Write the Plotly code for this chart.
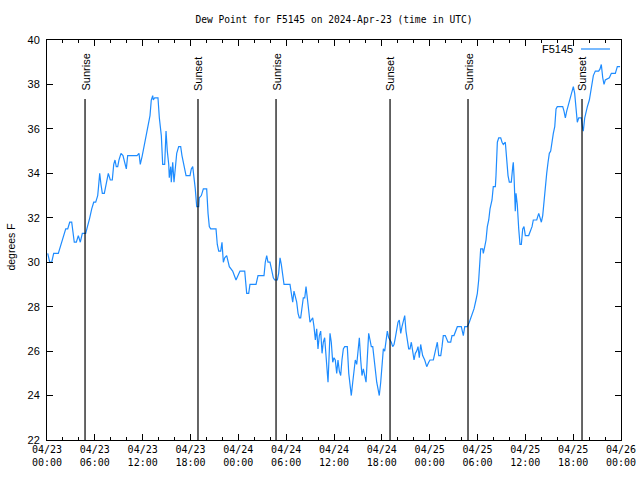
import plotly.graph_objects as go
import pandas as pd

# (hours since 2024-04-23 00:00 UTC, dew point in degrees F)
day1 = [
    (0.09, 30.4), (0.34, 30.0), (0.59, 30.0), (0.84, 30.4), (1.42, 30.4), (1.59, 30.6), (1.84, 31.0),
    (2.09, 31.2), (2.35, 31.5), (2.60, 31.5), (2.85, 31.8), (3.10, 31.8), (3.26, 31.2), (3.42, 30.9),
    (3.68, 30.9), (3.93, 31.2), (4.18, 30.9), (4.43, 31.3), (4.85, 31.3), (5.11, 31.6), (5.36, 32.0),
    (5.61, 32.4), (5.86, 32.7), (6.11, 32.7), (6.36, 33.0), (6.44, 33.3), (6.61, 34.0), (6.77, 33.5),
    (6.94, 33.1), (7.19, 33.1), (7.44, 33.6), (7.69, 34.0), (7.94, 33.7), (8.19, 33.7), (8.37, 34.4),
    (8.53, 34.6), (8.69, 34.3), (8.87, 34.3), (9.03, 34.6), (9.28, 34.9), (9.53, 34.8), (9.78, 34.4),
    (9.95, 34.2), (10.12, 34.8), (11.29, 34.8), (11.54, 34.9), (11.70, 34.4), (11.95, 34.8), (12.17, 35.2),
    (12.42, 35.6), (12.67, 36.0), (12.92, 36.6), (13.08, 37.3), (13.26, 37.5), (13.33, 37.3), (13.51, 37.4),
    (13.92, 37.4), (14.09, 36.5), (14.34, 35.7), (14.43, 34.8), (14.51, 34.4), (14.76, 34.4), (14.93, 35.9),
    (15.09, 35.0), (15.27, 34.4), (15.34, 33.8), (15.52, 34.3), (15.59, 33.6), (15.77, 34.5), (15.93, 33.6),
    (16.09, 34.4), (16.27, 34.9), (16.52, 35.2), (16.77, 35.2), (16.93, 34.8), (17.19, 34.4), (17.44, 33.9),
    (17.94, 33.9), (18.10, 34.2), (18.28, 34.3), (18.44, 33.9), (18.60, 33.3), (18.78, 32.5), (19.03, 32.5),
    (19.10, 32.9), (19.36, 33.0), (19.61, 33.3), (20.03, 33.3), (20.20, 32.2), (20.36, 31.6), (20.53, 31.5),
    (21.20, 31.5), (21.36, 30.8), (21.54, 30.5), (21.79, 30.5), (21.95, 30.9), (22.12, 30.0), (22.29, 30.2),
    (22.54, 30.3), (22.70, 30.0), (22.87, 29.8), (23.29, 29.6), (23.55, 29.4), (23.71, 29.2), (23.96, 29.4),
]
day2 = [
    (24.21, 29.6), (24.80, 29.6), (24.96, 29.0), (25.05, 28.6), (25.30, 28.6), (25.46, 29.0), (26.22, 29.0),
    (26.47, 29.4), (27.22, 29.4), (27.38, 30.0), (27.56, 30.3), (27.72, 30.0), (27.97, 30.0), (28.14, 29.7),
    (28.39, 29.3), (28.56, 29.2), (28.89, 29.2), (29.06, 29.5), (29.23, 30.2), (29.39, 29.9), (29.57, 29.3),
    (29.73, 29.0), (30.48, 29.0), (30.65, 28.5), (30.82, 28.2), (30.98, 28.7), (31.15, 28.5), (31.32, 28.2),
    (31.49, 27.7), (31.65, 27.5), (31.82, 27.5), (31.99, 28.1), (32.15, 28.4), (32.33, 28.4), (32.49, 28.9),
    (32.65, 28.4), (32.83, 27.8), (32.99, 27.3), (33.15, 27.4), (33.33, 27.5), (33.49, 27.1), (33.66, 26.5),
    (33.83, 27.0), (33.99, 26.1), (34.16, 26.7), (34.33, 26.9), (34.50, 25.9), (34.66, 26.4), (34.83, 26.6),
    (35.00, 25.9), (35.16, 24.9), (35.25, 24.6), (35.41, 26.0), (35.50, 26.8), (35.66, 26.4), (35.84, 25.5),
    (36.00, 25.7), (36.16, 25.6), (36.34, 25.0), (36.50, 25.6), (36.67, 25.1), (36.84, 24.9), (37.00, 25.6),
    (37.17, 26.1), (37.34, 26.2), (37.67, 26.2), (37.85, 25.0), (38.01, 24.3), (38.17, 24.0), (38.35, 24.6),
    (38.51, 25.0), (38.67, 25.6), (38.85, 25.4), (39.01, 26.1), (39.18, 26.6), (39.35, 25.6), (39.51, 24.9),
    (39.68, 25.2), (39.85, 24.9), (40.02, 24.6), (40.18, 25.7), (40.35, 26.8), (40.52, 26.5), (40.68, 26.2),
    (40.86, 26.2), (41.02, 25.7), (41.18, 25.0), (41.36, 24.6), (41.52, 24.3), (41.68, 24.0), (41.86, 24.6),
    (42.02, 25.5), (42.19, 26.1), (42.36, 26.0), (42.52, 26.6), (42.69, 26.9), (42.86, 26.6), (43.03, 26.5),
    (43.19, 26.4), (43.36, 26.2), (43.53, 26.3), (43.69, 26.6), (43.87, 27.0), (44.03, 27.3), (44.19, 27.4),
    (44.37, 26.8), (44.53, 27.1), (44.69, 27.3), (44.87, 27.6), (45.03, 26.9), (45.20, 26.5), (45.37, 26.1),
    (45.53, 26.1), (45.70, 26.4), (45.87, 26.0), (46.04, 25.6), (46.20, 25.9), (46.37, 26.0), (46.54, 26.2),
    (46.70, 25.7), (46.87, 26.3), (47.12, 25.8), (47.38, 25.6), (47.63, 25.3), (47.88, 25.5),
]
day3 = [
    (48.04, 25.6), (48.46, 25.6), (48.71, 26.0), (48.96, 26.4), (49.14, 25.8), (49.39, 25.8), (49.55, 26.2),
    (49.71, 26.7), (49.96, 26.7), (50.14, 26.5), (50.30, 26.4), (50.64, 26.4), (50.80, 26.7), (51.05, 26.7),
    (51.22, 26.9), (51.47, 27.1), (51.97, 27.1), (52.22, 26.7), (52.40, 27.1), (52.72, 27.1), (52.97, 27.3),
    (53.31, 27.6), (53.56, 27.9), (53.81, 28.3), (53.98, 28.6), (54.15, 29.2), (54.23, 29.7), (54.40, 30.6),
    (54.65, 30.6), (54.73, 30.4), (54.91, 30.7), (55.07, 31.0), (55.23, 31.6), (55.41, 31.9), (55.57, 32.4),
    (55.82, 32.8), (55.98, 33.4), (56.24, 33.4), (56.32, 33.9), (56.49, 35.4), (56.66, 35.6), (56.91, 35.6),
    (57.08, 35.4), (57.24, 35.3), (57.49, 35.4), (57.67, 34.4), (57.83, 33.9), (57.99, 33.6), (58.24, 33.6),
    (58.42, 34.3), (58.49, 34.5), (58.58, 33.9), (58.67, 32.6), (58.74, 32.3), (58.83, 33.1), (58.99, 32.6),
    (59.17, 31.5), (59.33, 30.8), (59.50, 30.8), (59.67, 31.5), (59.83, 31.6), (60.00, 31.2), (60.42, 31.2),
    (60.68, 31.4), (60.84, 31.6), (61.00, 31.9), (61.43, 31.9), (61.68, 32.2), (61.84, 32.0), (62.01, 31.8),
    (62.18, 32.1), (62.34, 32.8), (62.51, 33.3), (62.68, 34.0), (62.85, 34.5), (63.01, 34.9), (63.18, 35.0),
    (63.35, 35.5), (63.51, 35.8), (63.69, 36.1), (63.85, 36.9), (64.01, 37.0), (64.69, 37.0), (64.85, 36.8),
    (65.02, 36.5), (65.19, 36.8), (65.44, 37.1), (65.61, 37.4), (65.86, 37.7), (66.02, 37.9), (66.19, 37.6),
    (66.36, 37.0), (66.52, 36.3), (66.70, 36.5), (67.02, 36.5), (67.20, 36.0), (67.27, 35.9), (67.45, 36.5),
    (67.61, 36.8), (67.78, 37.0), (68.03, 37.3), (68.20, 37.7), (68.36, 38.1), (68.53, 38.4), (68.78, 38.6),
    (69.20, 38.6), (69.37, 38.7), (69.53, 38.9), (69.71, 38.3), (69.87, 38.0), (70.03, 38.2), (70.54, 38.3),
    (70.79, 38.5), (71.29, 38.5), (71.54, 38.8), (71.88, 38.8),
]

sunrise_hours = [4.77, 28.73, 52.81]
sunset_hours = [18.94, 43.03, 67.11]
tick_hours = list(range(0, 73, 6))
tick_labels = ["04/23<br>00:00", "04/23<br>06:00", "04/23<br>12:00", "04/23<br>18:00",
               "04/24<br>00:00", "04/24<br>06:00", "04/24<br>12:00", "04/24<br>18:00",
               "04/25<br>00:00", "04/25<br>06:00", "04/25<br>12:00", "04/25<br>18:00",
               "04/26<br>00:00"]
y_ticks = list(range(22, 41, 2))

station = "F5145"
base = pd.Timestamp("2024-04-23 00:00")


def to_time(hours):
    return [base + pd.to_timedelta(h, unit="h") for h in hours]


readings = day1 + day2 + day3
hours = [r[0] for r in readings]
dew = [r[1] for r in readings]

fig = go.Figure()
fig.add_trace(go.Scatter(x=to_time(hours), y=dew, mode="lines",
                         line=dict(color="#1e8cff", width=1.2),
                         name=station, showlegend=False))

LINE_TOP = 37.35
LABEL_BOTTOM = 37.66
label_font = dict(family="Liberation Sans", size=11, color="black")
annotations = []
for label, hrs in (("Sunrise", sunrise_hours), ("Sunset", sunset_hours)):
    for t in to_time(hrs):
        fig.add_trace(go.Scatter(x=[t, t], y=[LINE_TOP, 22], mode="lines",
                                 line=dict(color="black", width=1.2),
                                 hoverinfo="skip", showlegend=False))
        annotations.append(dict(x=t, y=LABEL_BOTTOM, xref="x", yref="y", text=label,
                                textangle=-90, showarrow=False, xanchor="center",
                                yanchor="bottom", font=label_font, borderpad=0))

# y-axis title
annotations.append(dict(x=0, xref="paper", xshift=-36, y=0.481, yref="paper",
                        text="degrees F", textangle=-90, showarrow=False,
                        xanchor="center", yanchor="middle",
                        font=dict(family="Liberation Sans", size=10.5, color="black")))
# legend (text left of sample, gnuplot style)
annotations.append(dict(x=0.9181, xref="paper", y=0.9775, yref="paper", text=station,
                        showarrow=False, xanchor="right", yanchor="middle",
                        font=label_font, borderpad=0))

fig.update_layout(
    width=640, height=480,
    margin=dict(l=47, r=19, t=40, b=40, autoexpand=False),
    paper_bgcolor="white", plot_bgcolor="white",
    title=dict(text="Dew Point for F5145 on 2024-Apr-23 (time in UTC)",
               x=0.5, xref="paper", xanchor="center",
               y=1 - 20 / 480, yref="container", yanchor="middle",
               font=dict(family="DejaVu Sans Mono", size=9.6, color="black")),
    annotations=annotations,
    shapes=[dict(type="line", xref="paper", yref="paper", x0=0.9303, x1=0.9808,
                 y0=0.9775, y1=0.9775, line=dict(color="#1e8cff", width=1.2))],
    showlegend=False,
)

fig.update_xaxes(
    type="date", range=[base, base + pd.Timedelta(hours=72)],
    tickvals=to_time(tick_hours), ticktext=tick_labels,
    ticks="inside", ticklen=6, tickcolor="black", tickwidth=1,
    showline=True, linecolor="black", linewidth=1, mirror="ticks",
    showgrid=False, zeroline=False, automargin=False, ticklabelstandoff=0,
    minor=dict(dtick=2 * 3600 * 1000, tick0=base, ticks="inside", ticklen=3,
               tickcolor="black", showgrid=False),
    tickfont=dict(family="DejaVu Sans Mono", size=10, color="black"),
)
fig.update_yaxes(
    range=[22, 40], tickvals=y_ticks,
    ticks="inside", ticklen=6, tickcolor="black", tickwidth=1,
    showline=True, linecolor="black", linewidth=1, mirror="ticks",
    showgrid=False, zeroline=False, automargin=False, ticklabelstandoff=4,
    tickfont=dict(family="Liberation Sans", size=11, color="black"),
)

fig.write_html("out.html", config={"displayModeBar": False},
               post_script="document.body.style.margin='0';document.body.style.overflow='hidden';")
